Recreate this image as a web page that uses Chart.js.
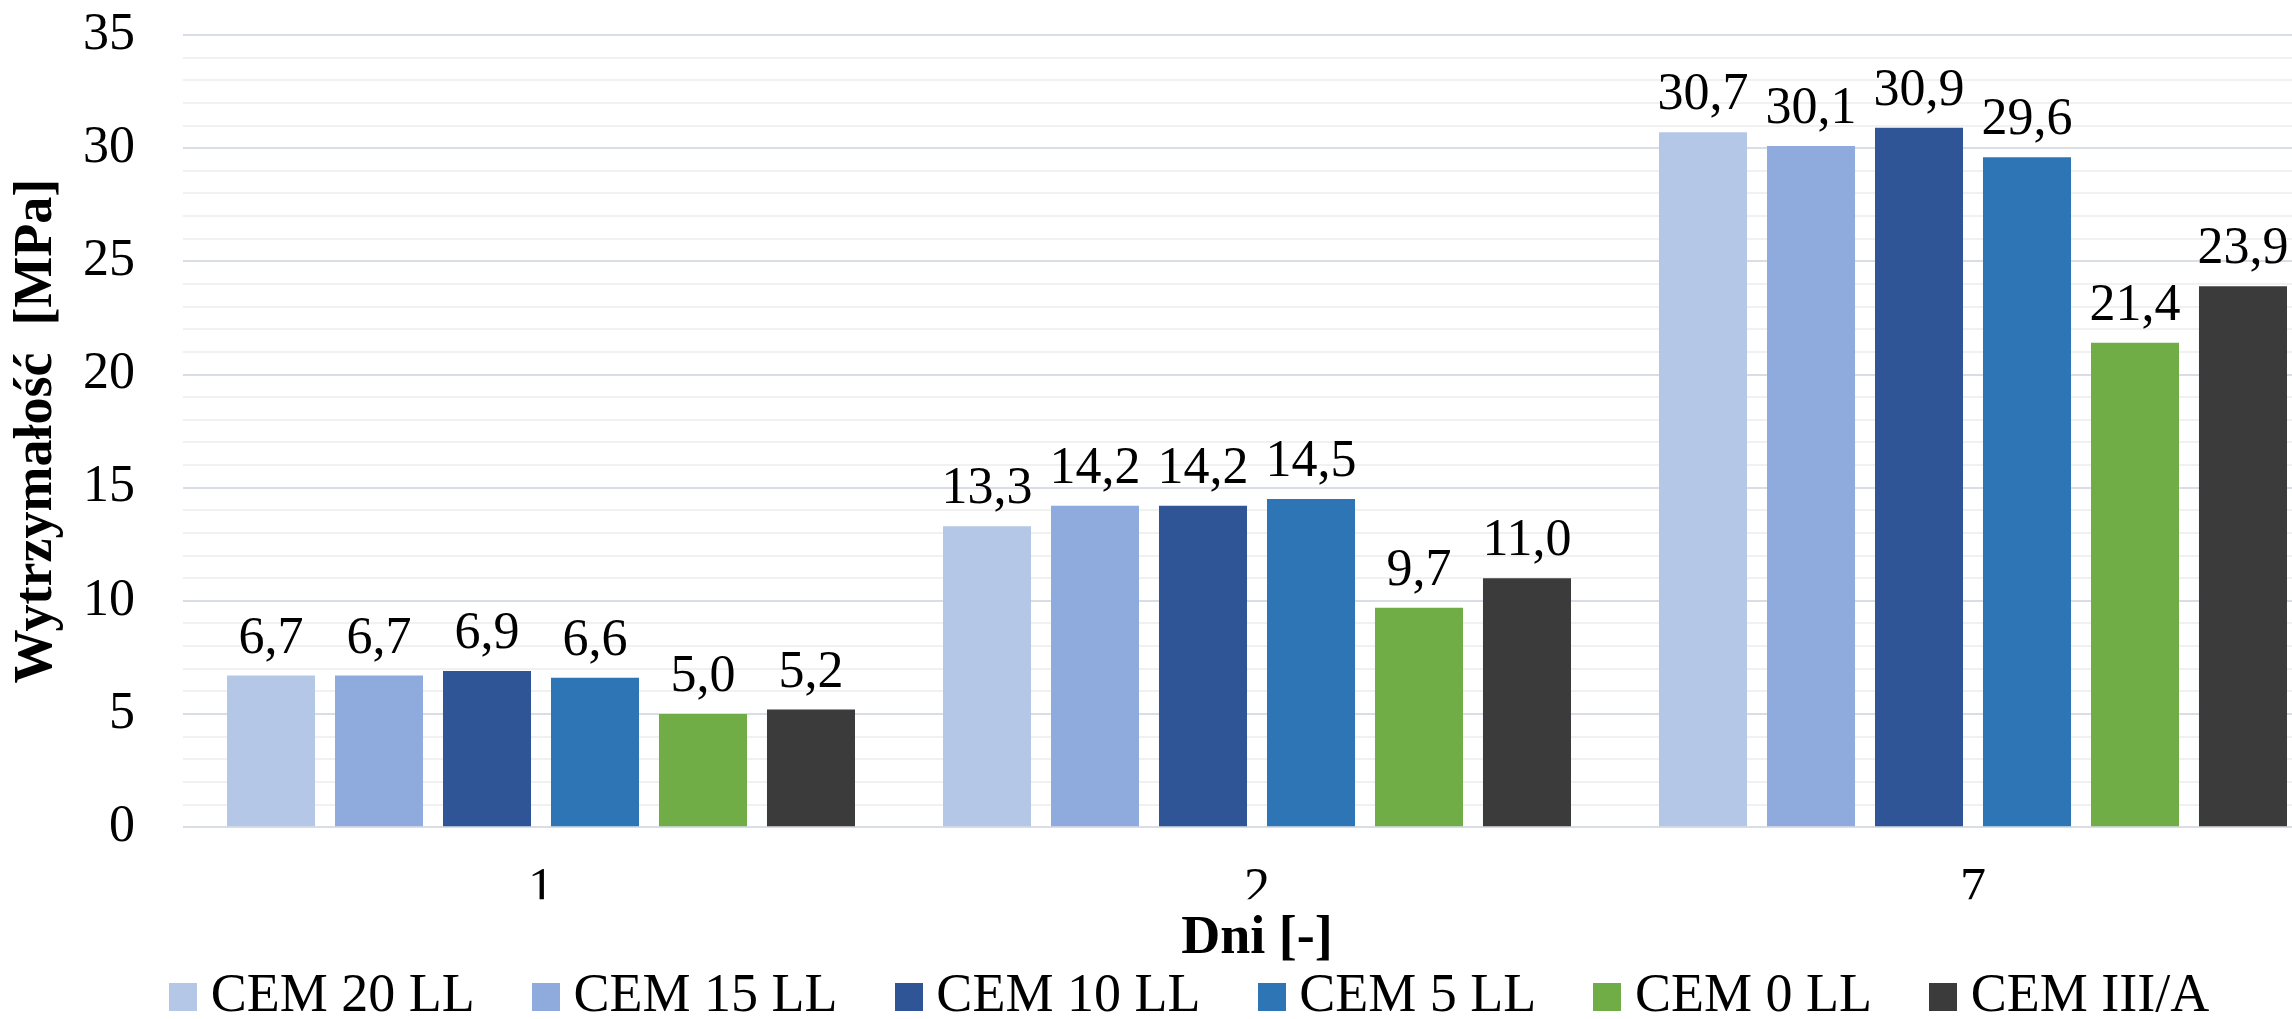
<!DOCTYPE html>
<html>
<head>
<meta charset="utf-8">
<script src="https://cdn.jsdelivr.net/npm/chart.js@4/dist/chart.umd.min.js"></script>
<style>
  html, body { margin: 0; padding: 0; background: #fff; overflow: hidden; width: 2292px; height: 1019px; }
  #wrap { position: absolute; left: 0; top: 0; width: 2331px; height: 1040px; }
</style>
</head>
<body>
<div id="wrap"><canvas id="c" width="2331" height="1040"></canvas></div>
<script>
// Compressive strength after 1, 2 and 7 days for each cement
const days = ['1', '2', '7'];
const seriesNames = ['CEM 20 LL', 'CEM 15 LL', 'CEM 10 LL', 'CEM 5 LL', 'CEM 0 LL', 'CEM III/A'];
const cem20LL = [6.7, 13.3, 30.7];
const cem15LL = [6.7, 14.2, 30.1];
const cem10LL = [6.9, 14.2, 30.9];
const cem5LL  = [6.6, 14.5, 29.6];
const cem0LL  = [5.0, 9.7, 21.4];
const cemIIIA = [5.2, 11.0, 23.9];
const seriesValues = [cem20LL, cem15LL, cem10LL, cem5LL, cem0LL, cemIIIA];
const seriesColors = ['#b4c7e7', '#8faadc', '#2f5597', '#2e75b6', '#70ad47', '#3b3b3b'];

const FONT = '"Liberation Serif", "Times New Roman", serif';

// square legend swatches, drawn as point-style images so the text sits close to them
const swatches = seriesColors.map(col => {
  const cv = document.createElement('canvas');
  cv.width = 28; cv.height = 28;
  const g = cv.getContext('2d');
  g.fillStyle = col;
  g.fillRect(0, 0, 28, 28);
  return cv;
});

// value written above each bar, with a decimal comma
const valueLabels = {
  id: 'valueLabels',
  afterDatasetsDraw(chart) {
    const ctx = chart.ctx;
    ctx.save();
    ctx.font = '52px ' + FONT;
    ctx.fillStyle = '#000';
    ctx.textAlign = 'center';
    ctx.textBaseline = 'alphabetic';
    chart.data.datasets.forEach((ds, i) => {
      chart.getDatasetMeta(i).data.forEach((bar, j) => {
        ctx.fillText(ds.data[j].toFixed(1).replace('.', ','), bar.x, bar.y - 23);
      });
    });
    ctx.restore();
  }
};

new Chart(document.getElementById('c'), {
  type: 'bar',
  data: {
    labels: days,
    datasets: seriesNames.map((name, i) => ({
      label: name,
      data: seriesValues[i],
      backgroundColor: seriesColors[i],
      borderWidth: 0,
      categoryPercentage: 0.905,
      barPercentage: 0.815
    }))
  },
  options: {
    responsive: false,
    animation: false,
    devicePixelRatio: 1,
    layout: { padding: { top: 35, right: 0, bottom: 6, left: 61 } },
    plugins: {
      legend: {
        position: 'bottom',
        labels: {
          color: '#000',
          font: { family: FONT, size: 54 },
          usePointStyle: true,
          boxWidth: 1,
          boxHeight: 28,
          padding: 70.8,
          generateLabels(chart) {
            const items = Chart.defaults.plugins.legend.labels.generateLabels(chart);
            items.forEach((it, i) => { it.pointStyle = swatches[i]; });
            return items;
          }
        }
      },
      tooltip: { enabled: false }
    },
    scales: {
      x: {
        grid: { display: false, drawTicks: false },
        border: { display: false },
        ticks: { color: '#000', font: { family: FONT, size: 52, lineHeight: 1.2 }, padding: 32 },
        title: {
          display: true,
          text: 'Dni [-]',
          color: '#000',
          font: { family: FONT, size: 54, weight: 'bold', lineHeight: 1.2 },
          padding: { top: 0, bottom: -72.4 }
        },
        afterFit(scale) { scale.height = 72; }
      },
      y: {
        min: 0,
        max: 35,
        border: { display: false },
        grid: {
          drawTicks: false,
          color: c => (c.tick && c.tick.value % 5 === 0) ? '#d9dee6' : '#f1f1f1',
          lineWidth: 2
        },
        ticks: {
          stepSize: 1,
          autoSkip: false,
          padding: 48,
          color: '#000',
          font: { family: FONT, size: 52, lineHeight: 1.2 },
          callback: v => (v % 5 === 0 ? String(v) : '')
        },
        title: {
          display: true,
          text: 'Wytrzymałość  [MPa]',
          color: '#000',
          font: { family: FONT, size: 54, weight: 'bold', lineHeight: 1.2 },
          padding: { top: -56.4, bottom: 0 }
        },
        afterFit(scale) {
          scale.width = 122;
          // the layout padding already leaves room for the top and bottom labels
          scale.paddingTop = 0;
          scale.paddingBottom = 0;
        }
      }
    }
  },
  plugins: [valueLabels]
});
</script>
</body>
</html>
